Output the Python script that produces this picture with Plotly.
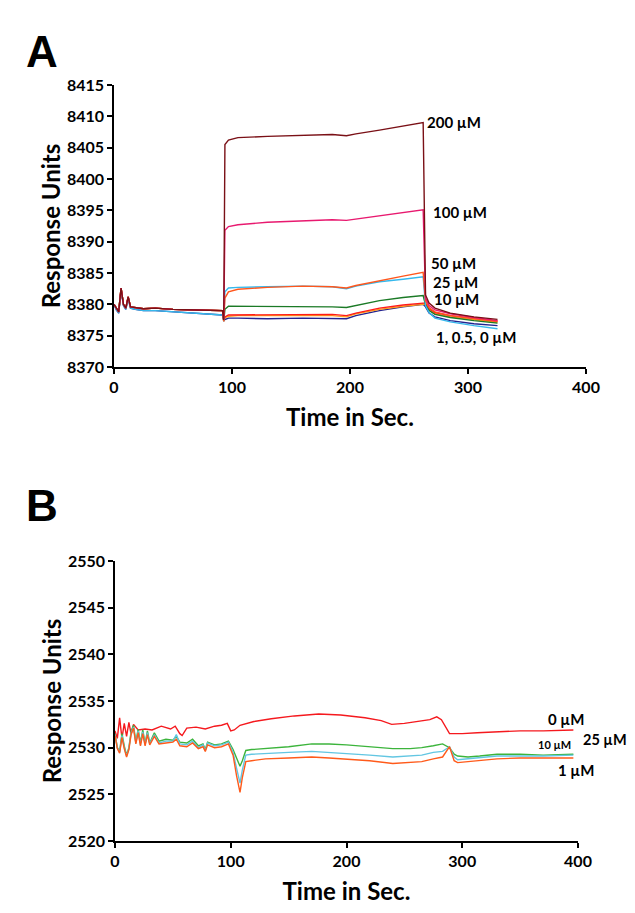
import plotly.graph_objects as go

# ---- Panel A : SPR sensorgram, 0-200 uM ----
tA = [0, 2, 4, 6, 8, 10, 12, 14, 18, 25, 35, 50, 70, 85, 92,
      93, 94, 97, 105, 130, 160, 185, 197, 205, 225, 245, 262,
      264, 267, 272, 285, 305, 325]

# baseline before injection (upper / lower group)
pre_hi = [8380.0, 8379.3, 8378.8, 8382.6, 8380.0, 8379.4, 8381.2, 8379.6,
          8379.5, 8379.3, 8379.4, 8379.2, 8379.1, 8379.0, 8379.0]
pre_lo = [8380.0, 8379.1, 8378.6, 8382.3, 8379.8, 8379.2, 8380.9, 8379.4,
          8379.2, 8379.0, 8379.0, 8378.8, 8378.6, 8378.4, 8378.3]

post_200 = [8377.5, 8405.5, 8406.2, 8406.6, 8406.8, 8407.0, 8407.1, 8406.9, 8407.2,
            8407.8, 8408.4, 8409.0, 8381.5, 8380.2, 8379.4, 8378.6, 8378.0, 8377.6]
post_100 = [8377.5, 8391.8, 8392.4, 8392.7, 8393.1, 8393.3, 8393.5, 8393.4, 8393.6,
            8394.2, 8394.7, 8395.1, 8381.0, 8379.8, 8379.1, 8378.5, 8377.9, 8377.4]
post_50 = [8377.3, 8381.0, 8382.0, 8382.4, 8382.7, 8382.9, 8382.8, 8382.6, 8383.0,
           8383.8, 8384.5, 8385.1, 8380.6, 8379.5, 8378.8, 8378.2, 8377.7, 8377.3]
post_25 = [8377.3, 8382.0, 8382.6, 8382.7, 8382.8, 8382.9, 8382.8, 8382.5, 8382.9,
           8383.6, 8384.0, 8384.4, 8379.8, 8378.7, 8377.8, 8377.2, 8376.6, 8376.1]
post_10 = [8377.4, 8379.2, 8379.7, 8379.7, 8379.7, 8379.7, 8379.6, 8379.5, 8379.8,
           8380.6, 8381.1, 8381.4, 8379.9, 8379.0, 8378.4, 8377.9, 8377.4, 8377.0]
post_1 = [8377.3, 8378.0, 8378.3, 8378.3, 8378.4, 8378.3, 8378.4, 8378.2, 8378.6,
          8379.4, 8379.9, 8380.2, 8380.2, 8379.3, 8378.7, 8378.2, 8377.7, 8377.3]
post_05 = [8377.3, 8377.9, 8378.1, 8378.2, 8378.2, 8378.2, 8378.2, 8378.0, 8378.5,
           8379.2, 8379.7, 8380.0, 8380.0, 8379.1, 8378.5, 8378.0, 8377.5, 8377.1]
post_0 = [8377.5, 8377.6, 8377.8, 8377.8, 8377.7, 8377.8, 8377.8, 8377.7, 8378.2,
          8379.0, 8379.6, 8380.0, 8379.6, 8378.6, 8378.0, 8377.4, 8376.9, 8376.6]

seriesA = [
    ("0 µM", pre_lo + post_0, "#23238f"),
    ("0.5 µM", pre_hi + post_05, "#ff9a1a"),
    ("1 µM", pre_hi + post_1, "#ff1a1a"),
    ("10 µM", pre_hi + post_10, "#1b7a26"),
    ("25 µM", pre_lo + post_25, "#35b8ec"),
    ("50 µM", pre_hi + post_50, "#ff561c"),
    ("100 µM", pre_hi + post_100, "#e8196f"),
    ("200 µM", pre_hi + post_200, "#7a1016"),
]
labelsA = [("200 µM", 288, 8409.1), ("100 µM", 293, 8394.7), ("50 µM", 288, 8386.6),
           ("25 µM", 289, 8383.5), ("10 µM", 290, 8380.8), ("1, 0.5, 0 µM", 307, 8374.8)]

# ---- Panel B ----
tB_red = [0, 2, 4, 6, 8, 10, 12, 14, 16, 20, 26, 32, 40, 48, 52, 56, 58, 62, 70, 78,
          86, 92, 97, 100, 103, 108, 120, 135, 155, 176, 195, 216, 230, 239, 250, 262,
          272, 278, 282, 289, 300, 313, 330, 350, 370, 396]
red_0 = [2531.8, 2531.0, 2533.2, 2531.0, 2532.6, 2531.2, 2532.7, 2531.4, 2532.5, 2531.9,
         2532.0, 2531.9, 2532.3, 2532.0, 2532.3, 2531.5, 2531.3, 2532.1, 2532.2, 2532.0,
         2532.3, 2532.4, 2532.6, 2531.8, 2531.9, 2532.4, 2532.8, 2533.1, 2533.4, 2533.6,
         2533.5, 2533.2, 2532.9, 2532.5, 2532.6, 2532.8, 2533.0, 2533.3, 2533.0, 2531.5,
         2531.5, 2531.6, 2531.7, 2531.8, 2531.8, 2531.9]

tB = [0, 2, 4, 6, 8, 10, 12, 14, 16, 18, 20, 22, 24, 26, 28, 30, 34, 38, 44, 50,
      53, 56, 62, 67, 72, 76, 78, 80, 86, 92, 98, 102, 105, 108, 110, 113, 118, 130,
      150, 170, 185, 200, 220, 240, 255, 265, 275, 283, 289, 293, 296, 305, 315, 330,
      350, 370, 396]
green_10 = [2531.5, 2530.0, 2529.6, 2531.5, 2530.2, 2529.2, 2530.0, 2531.8, 2532.4, 2530.6,
            2532.0, 2530.5, 2531.9, 2530.4, 2531.8, 2530.5, 2531.6, 2530.7, 2530.9, 2530.8,
            2531.2, 2530.6, 2530.5, 2530.9, 2530.2, 2530.4, 2529.8, 2530.6, 2530.3, 2530.4,
            2530.7, 2529.8, 2528.9, 2528.0, 2528.6, 2529.7, 2529.8, 2529.9, 2530.1, 2530.4,
            2530.4, 2530.3, 2530.1, 2529.9, 2529.9, 2530.0, 2530.2, 2530.4, 2530.0, 2529.3,
            2529.1, 2529.0, 2529.1, 2529.3, 2529.3, 2529.2, 2529.3]
blue_25 = [2531.4, 2530.0, 2529.5, 2531.3, 2530.0, 2529.1, 2529.9, 2531.6, 2532.2, 2530.5,
           2531.8, 2530.3, 2531.7, 2530.3, 2531.6, 2530.4, 2531.4, 2530.5, 2530.7, 2530.7,
           2531.4, 2530.4, 2530.3, 2530.7, 2530.0, 2530.3, 2529.7, 2530.5, 2530.2, 2530.3,
           2530.6, 2529.5, 2527.8, 2526.2, 2527.6, 2529.2, 2529.3, 2529.4, 2529.5, 2529.6,
           2529.5, 2529.4, 2529.2, 2529.0, 2529.1, 2529.2, 2529.5, 2529.6, 2530.1, 2529.0,
           2528.7, 2528.8, 2528.9, 2529.1, 2529.1, 2529.1, 2529.2]
orange_1 = [2531.3, 2529.9, 2529.4, 2531.1, 2529.9, 2529.0, 2529.8, 2531.5, 2532.1, 2530.4,
            2531.6, 2530.2, 2531.5, 2530.2, 2531.4, 2530.3, 2531.2, 2530.4, 2530.5, 2530.6,
            2530.9, 2530.2, 2530.1, 2530.5, 2529.9, 2530.1, 2529.6, 2530.3, 2530.0, 2530.1,
            2530.4, 2529.2, 2527.0, 2525.2, 2526.8, 2528.5, 2528.6, 2528.8, 2528.9, 2529.0,
            2528.9, 2528.8, 2528.6, 2528.3, 2528.4, 2528.5, 2528.8, 2529.0, 2530.1, 2528.6,
            2528.4, 2528.5, 2528.6, 2528.8, 2528.9, 2528.9, 2528.9]

seriesB = [
    ("0 µM", tB_red, red_0, "#f5191e"),
    ("10 µM", tB, green_10, "#3cb43c"),
    ("25 µM", tB, blue_25, "#62c6e2"),
    ("1 µM", tB, orange_1, "#ff5a1a"),
]

# page has an 8px body margin: keep the figure inside the window, no scrollbars
W, H, OFF = 619, 897, 8


def px(x):
    return (x - OFF) / W


def py(y):
    return 1 - (y - OFF) / H


FONT = "Lato"
fig = go.Figure()

for name, ys, color in seriesA:
    fig.add_trace(go.Scatter(x=tA, y=ys, mode='lines', name=name,
                             line=dict(color=color, width=1.4), xaxis='x', yaxis='y'))
for name, xs, ys, color in seriesB:
    fig.add_trace(go.Scatter(x=xs, y=ys, mode='lines', name=name,
                             line=dict(color=color, width=1.4), xaxis='x2', yaxis='y2'))

lab_font = dict(family=FONT, size=15, color='black', weight='bold')
for text, x, y in labelsA:
    fig.add_annotation(x=x, y=y, xref='x', yref='y', text=text, showarrow=False,
                       font=lab_font)

fig.add_annotation(x=390, y=2533.1, xref='x2', yref='y2', text="0 µM", showarrow=False,
                   font=lab_font)
fig.add_annotation(x=380, y=2530.3, xref='x2', yref='y2', text="10 µM", showarrow=False,
                   font=dict(family=FONT, size=11, color='black', weight='bold'))
fig.add_annotation(x=398, y=2527.6, xref='x2', yref='y2', text="1 µM", showarrow=False,
                   font=lab_font)
# sits past the end of the x range, so placed on the page
fig.add_annotation(x=px(581), y=py(750), xref='paper', yref='paper',
                   xanchor='left', text="25 µM", showarrow=False,
                   font=dict(family=FONT, size=14.5, color='black', weight='bold'))

# panel letters
for letter, yy in [("A", 25), ("B", 505)]:
    fig.add_annotation(x=px(24), y=py(yy), xref='paper', yref='paper', text=letter,
                       showarrow=False, font=dict(family="Liberation Sans", size=44,
                                                   color='black', weight='bold'))

axis_common = dict(showgrid=False, zeroline=False, showline=True, linecolor='black',
                   linewidth=1.5, ticks='outside', ticklen=5, tickwidth=1.5,
                   tickcolor='black', automargin=False,
                   tickfont=dict(family=FONT, size=16, color='black', weight='bold'))
title_font = dict(family=FONT, size=24, color='black', weight='bold')

fig.update_layout(
    width=W, height=H,
    margin=dict(l=0, r=0, t=0, b=0),
    plot_bgcolor='white', paper_bgcolor='white',
    showlegend=False,
    xaxis=dict(axis_common, domain=[px(114), px(586)], range=[0, 400], dtick=100,
               anchor='y', title=dict(text="Time in Sec.", font=title_font, standoff=14)),
    yaxis=dict(axis_common, domain=[py(367), py(85)], range=[8370, 8415],
               dtick=5, anchor='x', title=dict(text="Response Units", font=title_font,
                                                standoff=0)),
    xaxis2=dict(axis_common, domain=[px(115), px(578)], range=[0, 400], dtick=100,
                anchor='y2', title=dict(text="Time in Sec.", font=title_font, standoff=14)),
    yaxis2=dict(axis_common, domain=[py(841), py(561)], range=[2520, 2550],
                dtick=5, anchor='x2', title=dict(text="Response Units", font=title_font,
                                                  standoff=0)),
)

fig.write_html("out.html")
